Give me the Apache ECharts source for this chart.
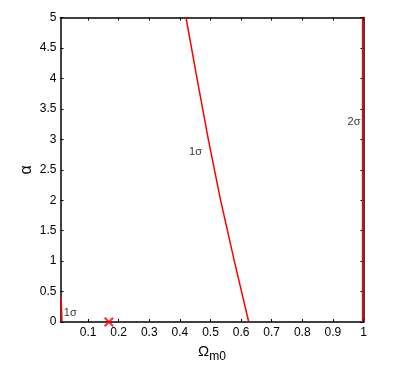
<!DOCTYPE html>
<html>
<head>
<meta charset="utf-8">
<script src="https://cdn.jsdelivr.net/npm/echarts@6/dist/echarts.min.js"></script>
<style>
  html, body { margin: 0; padding: 0; background: #fff; }
  #chart { width: 411px; height: 374px; }
</style>
</head>
<body>
<div id="chart"></div>
<script>
// x range of the plot (Omega_m0) and alpha range
const xRange = [0.01, 1]
const yRange = [0, 5]
const xTicks = [0.1, 0.2, 0.3, 0.4, 0.5, 0.6, 0.7, 0.8, 0.9, 1]

// 1 sigma contour (main branch), [Omega_m0, alpha]
const sigma1Main = [[0.42, 5], [0.456, 4], [0.493, 3], [0.533, 2], [0.578, 1], [0.625, 0]]
// 1 sigma contour, small piece at the left edge
const sigma1Left = [[0.012, 0.4], [0.015, 0]]
// 2 sigma contour along the right edge
const sigma2 = [[0.997, 0], [0.997, 5]]
// best fit point
const bestFit = [[0.168, 0]]
// contour labels
const contourLabels = [
  { value: [0.451, 2.79], text: '1σ' },
  { value: [0.969, 3.29], text: '2σ' },
  { value: [0.042, 0.15], text: '1σ' }
]

const font = 'Liberation Sans, Arial, Helvetica, sans-serif'
const lineStyle = { color: '#000', width: 1.5 }
const tick = { show: true, inside: true, length: 3, lineStyle: { color: '#000', width: 1 } }

const chart = echarts.init(document.getElementById('chart'))
chart.setOption({
  animation: false,
  textStyle: { fontFamily: font },
  grid: { left: 60.5, right: 47.5, top: 17.5, bottom: 52, containLabel: false },
  xAxis: [
    {
      type: 'value',
      min: xRange[0],
      max: xRange[1],
      position: 'bottom',
      name: '{a|Ω}{b|m0}',
      nameLocation: 'middle',
      nameGap: 19,
      nameMoveOverlap: false,
      nameTextStyle: {
        rich: {
          a: { fontSize: 15, fontFamily: font, color: '#000' },
          b: { fontSize: 12, fontFamily: font, color: '#000', padding: [10, 0, 0, 0] }
        }
      },
      axisLine: { show: true, onZero: false, lineStyle },
      axisTick: Object.assign({}, tick, { customValues: xTicks }),
      axisLabel: { customValues: xTicks, color: '#000', fontSize: 12, margin: 5, formatter: v => String(+v.toFixed(1)) },
      splitLine: { show: false }
    },
    {
      type: 'value',
      min: xRange[0],
      max: xRange[1],
      position: 'top',
      axisLine: { show: true, onZero: false, lineStyle },
      axisTick: Object.assign({}, tick, { customValues: xTicks }),
      axisLabel: { show: false },
      splitLine: { show: false }
    }
  ],
  yAxis: [
    {
      type: 'value',
      min: yRange[0],
      max: yRange[1],
      interval: 0.5,
      position: 'left',
      name: 'α',
      nameLocation: 'middle',
      nameGap: 26,
      nameMoveOverlap: false,
      nameRotate: 90,
      nameTextStyle: { fontSize: 16, color: '#000' },
      axisLine: { show: true, onZero: false, lineStyle },
      axisTick: tick,
      axisLabel: { color: '#000', fontSize: 12, margin: 4 },
      splitLine: { show: false }
    },
    {
      type: 'value',
      min: yRange[0],
      max: yRange[1],
      interval: 0.5,
      position: 'right',
      axisLine: { show: true, onZero: false, lineStyle },
      axisTick: tick,
      axisLabel: { show: false },
      splitLine: { show: false }
    }
  ],
  series: [
    {
      type: 'line',
      data: sigma1Main,
      showSymbol: false,
      lineStyle: { color: '#ff0000', width: 1.5 }
    },
    {
      type: 'line',
      data: sigma1Left,
      showSymbol: false,
      lineStyle: { color: '#ff0000', width: 1.5 }
    },
    {
      type: 'line',
      data: sigma2,
      showSymbol: false,
      clip: false,
      lineStyle: { color: '#ff0000', width: 1.5 }
    },
    {
      type: 'scatter',
      data: bestFit,
      clip: false,
      symbol: 'path://M0,1.5L1.5,0L5,3.5L8.5,0L10,1.5L6.5,5L10,8.5L8.5,10L5,6.5L1.5,10L0,8.5L3.5,5Z',
      symbolSize: 10,
      itemStyle: { color: '#ff0000' },
      z: 5
    },
    {
      type: 'scatter',
      data: contourLabels,
      symbolSize: 0,
      label: {
        show: true,
        position: 'inside',
        formatter: p => p.data.text,
        color: '#000',
        fontSize: 11,
        fontFamily: font
      }
    }
  ]
})
</script>
</body>
</html>
